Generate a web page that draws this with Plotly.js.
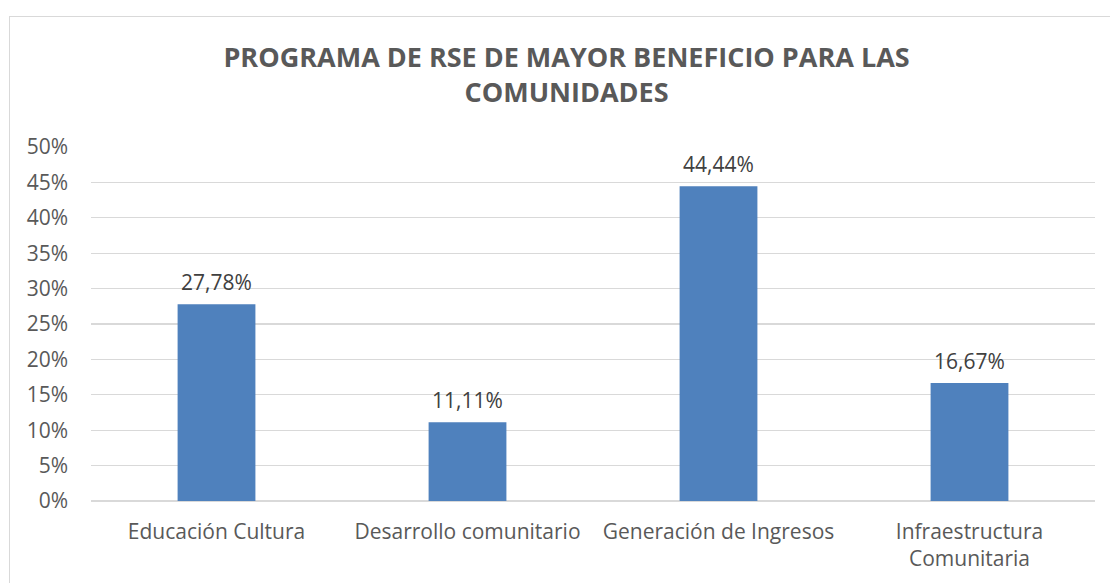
<!DOCTYPE html>
<html>
<head>
<meta charset="utf-8">
<script src="https://cdn.plot.ly/plotly-3.0.1.min.js"></script>
<style>
html,body{margin:0;padding:0;background:#fff;}
#wrap{position:relative;width:1110px;height:583px;overflow:hidden;}
#frame{position:absolute;left:9px;top:16px;width:1200px;height:700px;border:1px solid #d9d9d9;box-sizing:border-box;pointer-events:none;}
#chart{position:absolute;left:0;top:0;width:1110px;height:583px;}
</style>
</head>
<body>
<div id="wrap">
<div id="chart"></div>
<div id="frame"></div>
</div>
<script>
const categories = ["Educación Cultura", "Desarrollo comunitario", "Generación de Ingresos", "Infraestructura<br>Comunitaria"];
const values = [0.2778, 0.1111, 0.4444, 0.1667];
const valueLabels = ["27,78%", "11,11%", "44,44%", "16,67%"];
const tickValues = [0, 0.05, 0.10, 0.15, 0.20, 0.25, 0.30, 0.35, 0.40, 0.45, 0.50];

const FONT = "'Open Sans', sans-serif";

const annotations = categories.map((c, i) => ({
  x: c, y: values[i], xref: 'x', yref: 'y',
  text: valueLabels[i], showarrow: false,
  yanchor: 'bottom', yshift: 6,
  font: {family: FONT, size: 21, color: '#404040'}
}));

Plotly.newPlot('chart', [{
  type: 'bar',
  x: categories,
  y: values,
  marker: {color: '#4F81BD'},
  width: 0.31,
  hoverinfo: 'skip'
}], {
  width: 1110,
  height: 583,
  separators: ',.',
  paper_bgcolor: 'rgba(0,0,0,0)',
  plot_bgcolor: '#fff',
  margin: {l: 91, r: 15, t: 147, b: 82, pad: 0},
  showlegend: false,
  annotations: annotations,
  title: {
    text: '<b>PROGRAMA DE RSE DE MAYOR BENEFICIO PARA LAS<br>COMUNIDADES</b>',
    font: {family: FONT, size: 27, color: '#595959'},
    x: 0.5104, xanchor: 'center',
    y: 0.885, yanchor: 'top',
    yref: 'container'
  },
  xaxis: {
    showgrid: false,
    showline: false,
    ticks: '',
    ticklabelstandoff: 16,
    tickfont: {family: FONT, size: 21, color: '#595959'},
    fixedrange: true
  },
  yaxis: {
    range: [0, 0.5],
    tickvals: tickValues,
    tickformat: '.0%',
    showgrid: true,
    gridcolor: '#d9d9d9',
    gridwidth: 1.3,
    zeroline: true,
    zerolinecolor: '#d9d9d9',
    zerolinewidth: 1.3,
    showline: false,
    ticks: '',
    ticklabelstandoff: 22,
    tickfont: {family: FONT, size: 21, color: '#595959'},
    fixedrange: true
  }
}, {displayModeBar: false, staticPlot: true});
</script>
</body>
</html>
